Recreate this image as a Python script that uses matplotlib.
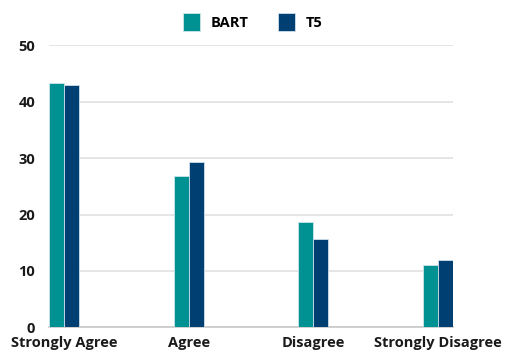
import numpy as np
import matplotlib.pyplot as plt

categories = ['Strongly Agree', 'Agree', 'Disagree', 'Strongly Disagree']
bart = [43.4, 26.8, 18.7, 11.0]
t5 = [43.0, 29.3, 15.6, 12.0]

plt.rcParams['font.family'] = ['Open Sans', 'DejaVu Sans']
plt.rcParams['font.weight'] = 'bold'

fig = plt.figure(figsize=(5.05, 3.52), dpi=100)
ax = fig.add_axes([49/505, 1-327.3/352, 404/505, (327.3-45.3)/352])

x = np.arange(len(categories))
w = 0.12
ax.bar(x - w/2, bart, w, color='#009193', edgecolor='#cfe6ea', linewidth=0.6, label='BART', zorder=3)
ax.bar(x + w/2, t5, w, color='#003f72', edgecolor='#cfe0ee', linewidth=0.6, label='T5', zorder=3)

ax.set_xlim(-w, len(categories) - 1 + w)
ax.set_ylim(0, 50)
ax.set_yticks([0, 10, 20, 30, 40, 50])
ax.set_xticks(x)
ax.set_xticklabels(categories, fontweight='bold')
for lab in ax.get_yticklabels():
    lab.set_fontweight('bold')
ax.tick_params(axis='both', length=0, labelsize=10.5, colors='#1a1a1a')
ax.tick_params(axis='y', pad=10)
ax.tick_params(axis='x', pad=6)
ax.grid(axis='y', color='#e0e0e0', linewidth=1.2, zorder=0)
for s in ['top', 'right', 'left']:
    ax.spines[s].set_visible(False)
ax.spines['bottom'].set_color('#c8c8c8')
ax.spines['bottom'].set_linewidth(1.2)

fig.legend(loc='center', bbox_to_anchor=(0.5, 1-22/352), ncol=2, frameon=False,
           prop={'size': 10.5, 'weight': 'bold'}, handlelength=1.2, handleheight=1.6,
           columnspacing=2.0, handletextpad=0.7)

fig.savefig('out.png', dpi=100)
